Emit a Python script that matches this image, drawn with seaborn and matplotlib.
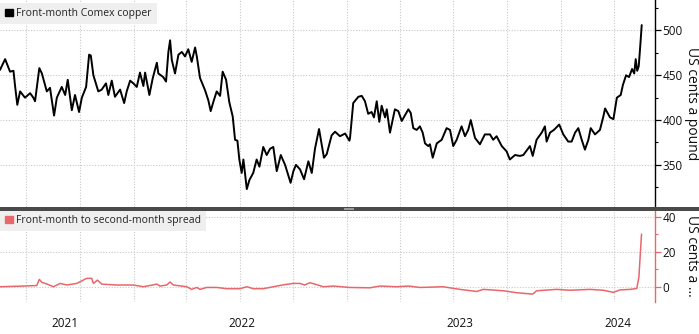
import numpy as np
import pandas as pd
import matplotlib
matplotlib.use("Agg")
import matplotlib.pyplot as plt
import seaborn as sns
from matplotlib.patches import Patch, Rectangle

# ---------------- data ----------------
# time in decimal years
copper_time = [2021.375, 2021.399, 2021.422, 2021.438, 2021.446, 2021.456, 2021.469, 2021.492, 2021.516, 2021.531,
               2021.539, 2021.559, 2021.571, 2021.594, 2021.609, 2021.628, 2021.641, 2021.664, 2021.680, 2021.692,
               2021.711, 2021.726, 2021.745, 2021.758, 2021.778, 2021.792, 2021.800, 2021.812, 2021.835, 2021.851,
               2021.871, 2021.882, 2021.898, 2021.913, 2021.937, 2021.956, 2021.968, 2021.984, 2021.999, 2022.015,
               2022.030, 2022.046, 2022.054, 2022.074, 2022.090, 2022.109, 2022.116, 2022.139, 2022.152, 2022.163,
               2022.171, 2022.179, 2022.194, 2022.210, 2022.226, 2022.241, 2022.256, 2022.272, 2022.288, 2022.296,
               2022.311, 2022.335, 2022.350, 2022.361, 2022.373, 2022.389, 2022.405, 2022.417, 2022.433, 2022.448,
               2022.464, 2022.475, 2022.486, 2022.495, 2022.506, 2022.514, 2022.530, 2022.542, 2022.560, 2022.576,
               2022.589, 2022.607, 2022.623, 2022.639, 2022.654, 2022.670, 2022.689, 2022.709, 2022.735, 2022.748,
               2022.760, 2022.779, 2022.798, 2022.818, 2022.834, 2022.849, 2022.868, 2022.891, 2022.904, 2022.927,
               2022.943, 2022.966, 2022.990, 2023.010, 2023.013, 2023.028, 2023.052, 2023.068, 2023.083, 2023.098,
               2023.114, 2023.125, 2023.138, 2023.150, 2023.161, 2023.177, 2023.185, 2023.200, 2023.223, 2023.239,
               2023.255, 2023.286, 2023.297, 2023.309, 2023.325, 2023.340, 2023.353, 2023.364, 2023.379, 2023.387,
               2023.400, 2023.419, 2023.442, 2023.465, 2023.481, 2023.496, 2023.512, 2023.535, 2023.551, 2023.566,
               2023.578, 2023.598, 2023.621, 2023.644, 2023.668, 2023.683, 2023.699, 2023.723, 2023.746, 2023.761,
               2023.785, 2023.808, 2023.824, 2023.855, 2023.868, 2023.886, 2023.910, 2023.925, 2023.933, 2023.949,
               2023.967, 2023.992, 2024.011, 2024.034, 2024.050, 2024.066, 2024.081, 2024.097, 2024.112, 2024.128,
               2024.139, 2024.159, 2024.182, 2024.198, 2024.206, 2024.229, 2024.245, 2024.261, 2024.279, 2024.289,
               2024.304, 2024.318, 2024.332, 2024.342, 2024.349, 2024.356, 2024.363, 2024.370, 2024.377]
copper_cents = [456, 468, 454, 455, 437, 417, 432, 425, 430, 425,
                421, 458, 452, 432, 436, 405, 425, 437, 428, 445,
                411, 428, 409, 425, 437, 473, 472, 450, 432, 434,
                441, 428, 444, 426, 434, 419, 432, 444, 441, 437,
                453, 438, 453, 428, 447, 464, 452, 448, 443, 476,
                489, 467, 452, 473, 476, 471, 479, 465, 481, 471,
                447, 433, 422, 410, 420, 432, 427, 454, 445, 420,
                404, 378, 377, 356, 341, 356, 323, 333, 341, 356,
                348, 370, 361, 368, 370, 343, 361, 350, 330, 343,
                350, 345, 334, 354, 341, 368, 390, 358, 362, 383,
                387, 382, 385, 377, 380, 419, 426, 427, 421, 407,
                409, 403, 421, 398, 416, 403, 412, 386, 412, 410,
                399, 412, 408, 391, 389, 393, 386, 374, 371, 373,
                358, 374, 378, 391, 389, 371, 378, 393, 382, 389,
                400, 380, 373, 384, 384, 378, 382, 371, 365, 356,
                361, 360, 361, 371, 360, 378, 386, 393, 376, 386,
                389, 395, 384, 376, 376, 386, 391, 378, 367, 378,
                391, 384, 389, 404, 413, 403, 401, 425, 428, 439,
                450, 448, 457, 452, 468, 455, 460, 482, 506]

spread_time = [2021.375, 2021.484, 2021.547, 2021.559, 2021.571, 2021.594, 2021.625, 2021.656, 2021.688, 2021.734,
               2021.781, 2021.804, 2021.812, 2021.831, 2021.851, 2021.921, 2021.999, 2022.046, 2022.109, 2022.124,
               2022.155, 2022.171, 2022.186, 2022.249, 2022.272, 2022.296, 2022.311, 2022.342, 2022.389, 2022.436,
               2022.498, 2022.530, 2022.560, 2022.607, 2022.654, 2022.701, 2022.748, 2022.779, 2022.801, 2022.825,
               2022.849, 2022.888, 2022.935, 2023.010, 2023.106, 2023.153, 2023.231, 2023.286, 2023.340, 2023.449,
               2023.527, 2023.606, 2023.636, 2023.730, 2023.793, 2023.868, 2023.886, 2023.980, 2024.042, 2024.136,
               2024.198, 2024.245, 2024.276, 2024.323, 2024.354, 2024.364, 2024.376]
spread_cents = [0, 0.4, 0.7, 4.2, 2.5, 1.6, 0, 1.9, 1, 1.9,
                4.8, 4.8, 1.9, 3.8, 1.5, 1, 1, 0, 1.5, 0.4,
                1, 2.7, 1, 0, -1.5, -0.4, -1.5, -0.4, -0.4, -1.1,
                -1.1, 0, -1.1, -1.1, 0, 1.1, 1.9, 1.9, 1, 2.3,
                1.5, 0, 0.4, -0.4, -0.6, 0.4, 0, 0.4, -0.4, 0,
                -1.5, -2.7, -1.5, -2.3, -3.4, -4.2, -2.3, -1.5, -2, -1.5,
                -2, -3.2, -1.8, -1.5, -1, 5.7, 30]

year_labels = ["2021", "2022", "2023", "2024"]
year_label_time = [2021.679, 2022.508, 2023.527, 2024.267]
copper_ticks = [350, 400, 450, 500]
spread_ticks = [0, 20, 40]
copper_label = "Front-month Comex copper"
spread_label = "Front-month to second-month spread"
unit_top = "US cents a pound"
unit_bottom = "US cents a ..."


def to_dt(vals):
    out = []
    for v in vals:
        y = int(np.floor(v))
        s = pd.Timestamp(y, 1, 1)
        e = pd.Timestamp(y + 1, 1, 1)
        out.append(s + (e - s) * (v - y))
    return pd.to_datetime(out)


copper_df = pd.DataFrame({"date": to_dt(copper_time), "value": copper_cents})
spread_df = pd.DataFrame({"date": to_dt(spread_time), "value": spread_cents})

sns.set_style("white")
plt.rcParams["font.family"] = ["Open Sans", "DejaVu Sans"]

W, H = 699, 334
fig = plt.figure(figsize=(W / 100, H / 100), dpi=100)
fig.patch.set_facecolor("white")

ax_r = 655 / W
ax1 = fig.add_axes([0, 1 - 207 / H, ax_r, 207 / H])
ax2 = fig.add_axes([0, 1 - 302 / H, ax_r, (302 - 210) / H])

RED = "#e8676b"
GRID = "#c8c8c8"

sns.lineplot(data=copper_df, x="date", y="value", ax=ax1, color="black", lw=1.4, legend=False)
sns.lineplot(data=spread_df, x="date", y="value", ax=ax2, color=RED, lw=1.1, legend=False)

xmin = to_dt([2021.375])[0]
xmax = to_dt([2024.439])[0]
quarters = pd.date_range("2021-04-01", "2024-04-01", freq="QS")

for ax, ticks, spc, ylim in [(ax1, copper_ticks, "black", (303, 534)),
                              (ax2, spread_ticks, RED, (-8.7, 43.8))]:
    ax.set_facecolor("white")
    ax.set_xlabel("")
    ax.set_ylabel("")
    for s in ["left", "top", "bottom"]:
        ax.spines[s].set_visible(False)
    ax.spines["right"].set_visible(True)
    ax.spines["right"].set_color(spc)
    ax.spines["right"].set_linewidth(1.0)
    ax.yaxis.tick_right()
    ax.set_yticks(ticks)
    step = ticks[1] - ticks[0]
    ax.set_yticks([t + step / 2 for t in [ticks[0] - step] + ticks], minor=True)
    ax.tick_params(axis="y", which="major", length=4, width=0.9, color=spc, pad=1.5,
                   labelsize=8.5, labelcolor="#111111", right=True, left=False)
    ax.tick_params(axis="y", which="minor", length=2.5, width=0.8, color=spc, right=True, left=False)
    ax.set_xticks(quarters)
    ax.tick_params(axis="x", which="major", length=0, labelbottom=False)
    ax.grid(True, which="major", axis="both", color=GRID, linestyle=(0, (1, 1.5)), linewidth=0.8)
    ax.grid(False, which="minor")

ax2.set_xticks(to_dt(year_label_time), minor=True)
ax2.set_xticklabels(year_labels, minor=True)
ax2.tick_params(axis="x", which="minor", length=0, pad=11, labelsize=8.5, labelcolor="#111111")

for ax, ylim in [(ax1, (303, 534)), (ax2, (-8.7, 43.8))]:
    ax.set_xlim(xmin, xmax)
    ax.set_ylim(*ylim)

leg_kw = dict(loc="upper left", frameon=True, fancybox=False, framealpha=1, facecolor="#efefef",
              edgecolor="none", borderpad=0.5, handlelength=0.75, handleheight=0.75,
              handletextpad=0.3, borderaxespad=0, fontsize=7.5)
l1 = ax1.legend(handles=[Patch(color="black", label=copper_label)],
                bbox_to_anchor=(0, 1 - 3 / 207), **leg_kw)
l2 = ax2.legend(handles=[Patch(color=RED, label=spread_label)],
                bbox_to_anchor=(0, 1.0), **leg_kw)
for l in (l1, l2):
    for t in l.get_texts():
        t.set_color("#222222")

# separator bar between panels
fig.add_artist(Rectangle((0, 1 - 210.5 / H), 1, 3.5 / H, transform=fig.transFigure,
                         color="#4a4a4a", lw=0, zorder=5))
fig.add_artist(Rectangle((344 / W, 1 - 210 / H), 10 / W, 2.5 / H, transform=fig.transFigure,
                         color="#9a9a9a", lw=0, zorder=6))

fig.text(691 / W, 1 - 104 / H, unit_top, rotation=270, ha="center", va="center",
         fontsize=10, color="#111111")
fig.text(691 / W, 1 - 256 / H, unit_bottom, rotation=270, ha="center", va="center",
         fontsize=10, color="#111111")

fig.savefig("out.png", dpi=100, facecolor="white")
